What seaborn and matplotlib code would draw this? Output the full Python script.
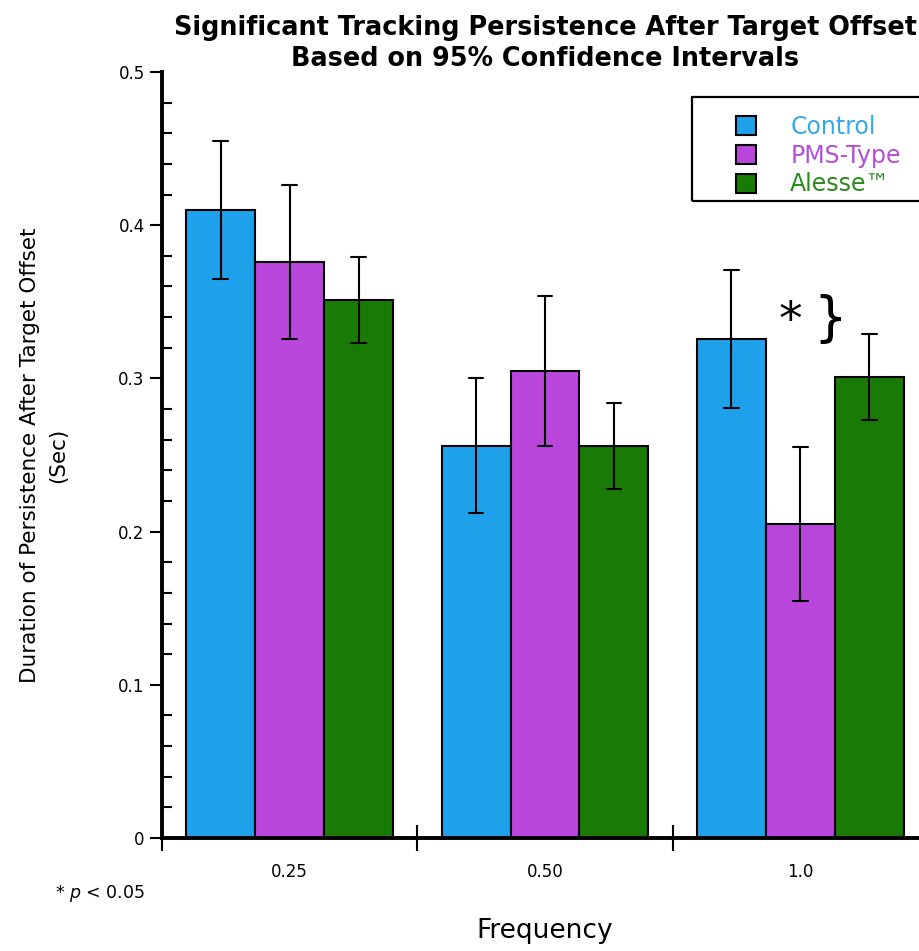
import matplotlib
matplotlib.use("Agg")
import matplotlib.pyplot as plt
import seaborn as sns
import pandas as pd
from matplotlib.ticker import MultipleLocator
from matplotlib.patches import Rectangle

# ---- data ----
frequencies = ["0.25", "0.50", "1.0"]
groups = ["Control", "PMS-Type", "Alesse\u2122"]
control = [0.410, 0.256, 0.326]
pms_type = [0.376, 0.305, 0.205]
alesse = [0.351, 0.256, 0.301]
ci_control = [0.045, 0.044, 0.045]
ci_pms_type = [0.050, 0.049, 0.050]
ci_alesse = [0.028, 0.028, 0.028]
title_lines = ["Significant Tracking Persistence After Target Offset",
               "Based on 95% Confidence Intervals"]

bar_colors = ["#1fa0ea", "#b947dc", "#1a7a06"]
text_colors = ["#35a8e6", "#b24fd6", "#2a8a1c"]

rows = []
for g, vals, cis in zip(groups, [control, pms_type, alesse], [ci_control, ci_pms_type, ci_alesse]):
    for f, v, c in zip(frequencies, vals, cis):
        rows.append({"Frequency": f, "Group": g, "value": v - c})
        rows.append({"Frequency": f, "Group": g, "value": v + c})
df = pd.DataFrame(rows)

sns.set_style("white")
plt.rcParams["font.family"] = ["DejaVu Sans"]
plt.rcParams["text.color"] = "black"
plt.rcParams["axes.labelcolor"] = "black"
plt.rcParams["xtick.color"] = "black"
plt.rcParams["ytick.color"] = "black"

W, H = 919, 951
fig = plt.figure(figsize=(W / 100, H / 100), dpi=100)
ax = fig.add_axes([162 / W, (H - 838) / H, (928 - 162) / W, (838 - 72) / H])

sns.barplot(data=df, x="Frequency", y="value", hue="Group", order=frequencies,
            hue_order=groups, palette=bar_colors, estimator="mean",
            errorbar=lambda v: (v.min(), v.max()), width=0.81, saturation=1,
            edgecolor="black", linewidth=1.5, capsize=0.17,
            err_kws={"color": "black", "linewidth": 1.5}, ax=ax, legend=True)

ax.set_xlim(-0.5, 2.5)
ax.set_ylim(0, 0.5)
for s in ["top", "right"]:
    ax.spines[s].set_visible(False)
for s in ["left", "bottom"]:
    ax.spines[s].set_linewidth(2.8)
    ax.spines[s].set_color("black")

# y ticks
ax.set_yticks([0, 0.1, 0.2, 0.3, 0.4, 0.5])
ax.set_yticklabels(["0", "0.1", "0.2", "0.3", "0.4", "0.5"])
ax.yaxis.set_minor_locator(MultipleLocator(0.02))
ax.tick_params(axis="y", which="major", direction="out", length=8.5, width=1.5,
               labelsize=12, pad=4, left=True)
ax.tick_params(axis="y", which="minor", direction="in", length=7, width=1.5, left=True)

# x ticks: labels at group centres, small inward minor ticks
ax.set_xticks([0, 1, 2])
ax.set_xticklabels(frequencies)
ax.tick_params(axis="x", which="major", length=0, labelsize=12, pad=18)
ax.xaxis.set_minor_locator(MultipleLocator(0.1))
ax.tick_params(axis="x", which="minor", direction="in", length=3.5, width=1.2, bottom=True)

sec = ax.secondary_xaxis("bottom")
sec.set_xticks([-0.5, 0.5, 1.5, 2.5])
sec.set_xticklabels([])
sec.tick_params(direction="inout", length=19, width=1.5)
sec.spines["bottom"].set_visible(False)

ax.set_xlabel("Frequency", fontsize=19, labelpad=27)
ax.set_ylabel("Duration of Persistence After Target Offset\n(Sec)", fontsize=15.5,
              labelpad=36, linespacing=1.5)

# title, two centred lines over the axes
for line, base in zip(title_lines, [35, 66]):
    fig.text(545 / W, 1 - base / H, line, fontsize=18.4, fontweight="bold",
             ha="center", va="baseline")

# legend (text coloured like the bars), frame drawn as a figure rectangle
handles, labels = ax.get_legend_handles_labels()
leg = ax.legend(handles, labels, loc="upper left", bbox_to_anchor=(736 / W, 1 - 115 / H),
                bbox_transform=fig.transFigure, fontsize=17, frameon=False,
                handlelength=0.85, handleheight=0.85, handletextpad=1.45,
                borderpad=0.0, labelspacing=0.2, borderaxespad=0)
for t, c in zip(leg.get_texts(), text_colors):
    t.set_color(c)
fig.patches.append(Rectangle((692 / W, 1 - 201 / H), (940 - 692) / W, (201 - 97) / H,
                             transform=fig.transFigure, fill=False, edgecolor="black",
                             linewidth=1.6))

# significance annotation
ax.text(1.96, 0.337, "*", fontsize=34, ha="center", va="center")
ax.text(2.117, 0.338, "}", fontsize=38, ha="center", va="center")

fig.text(55 / W, 1 - 893 / H, "* $p$ < 0.05", fontsize=12.5, ha="left", va="center")

fig.savefig("out.png", dpi=100)
